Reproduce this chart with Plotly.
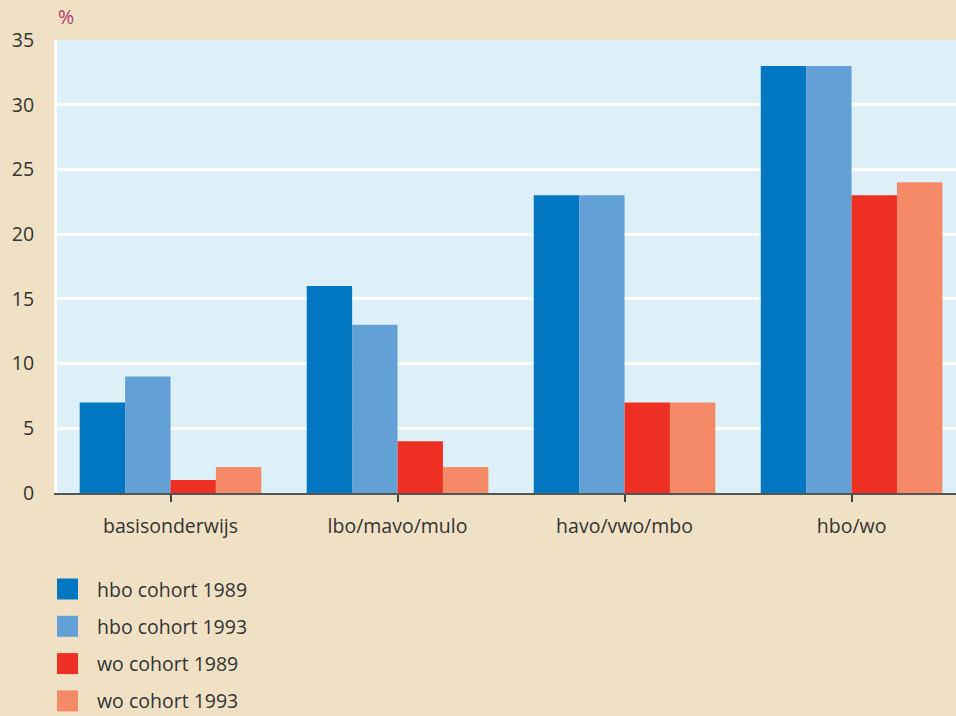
import plotly.graph_objects as go

categories = ["basisonderwijs", "lbo/mavo/mulo", "havo/vwo/mbo", "hbo/wo"]
series_names = ["hbo cohort 1989", "hbo cohort 1993", "wo cohort 1989", "wo cohort 1993"]
hbo_1989 = [7, 16, 23, 33]
hbo_1993 = [9, 13, 23, 33]
wo_1989 = [1, 4, 7, 23]
wo_1993 = [2, 2, 7, 24]
colors = ["#0077C0", "#62A0D6", "#EE3024", "#F58A68"]
y_ticks = [0, 5, 10, 15, 20, 25, 30, 35]

font_family = "Open Sans, Lato, DejaVu Sans, sans-serif"
text_color = "#333333"
fs = 19.5

W, H = 956, 716
L, R, T, B = 57, 0, 40, 223
pw, ph = W - L - R, H - T - B


def px_x(x):
    return (x - L) / pw


def px_y(y):
    return (H - B - y) / ph


fig = go.Figure()
for name, vals, col in zip(series_names, [hbo_1989, hbo_1993, wo_1989, wo_1993], colors):
    fig.add_trace(go.Bar(x=list(range(len(categories))), y=vals, name=name,
                         marker=dict(color=col, line=dict(width=0)), showlegend=False,
                         hoverinfo="skip"))

# manual legend
legend_top = 589
legend_step = 37.3
for i, (name, col) in enumerate(zip(series_names, colors)):
    yc = legend_top + i * legend_step
    fig.add_shape(type="rect", xref="paper", yref="paper",
                  x0=px_x(57), x1=px_x(78), y0=px_y(yc + 10.5), y1=px_y(yc - 10.5),
                  fillcolor=col, line=dict(width=0))
    fig.add_annotation(text=name, xref="paper", yref="paper",
                       x=px_x(95), y=px_y(yc), xanchor="left", yanchor="middle", showarrow=False,
                       font=dict(size=fs, color=text_color, family=font_family))

fig.add_annotation(text="%", xref="paper", yref="paper", x=px_x(56), y=px_y(17),
                   xanchor="left", yanchor="middle", showarrow=False,
                   font=dict(size=fs, color="#B03A6E", family=font_family))

fig.update_layout(
    width=W, height=H,
    margin=dict(l=L, r=R, t=T, b=B),
    paper_bgcolor="#F0E1C4",
    plot_bgcolor="#DDF0F7",
    barmode="group", bargap=0.2, bargroupgap=0,
    font=dict(family=font_family, size=fs, color=text_color),
    xaxis=dict(tickmode="array", tickvals=list(range(len(categories))), ticktext=categories,
               range=[-0.5, 3.46], showgrid=False, showline=True, linecolor="#555555", linewidth=2,
               ticks="outside", ticklen=7, tickwidth=2, tickcolor="#444444", zeroline=False,
               ticklabelstandoff=8, tickfont=dict(size=fs, color=text_color)),
    yaxis=dict(range=[0, 35], tickvals=y_ticks, showgrid=True, gridcolor="white", gridwidth=2.5,
               zeroline=False, showline=True, linecolor="white", linewidth=3,
               ticks="", ticklabelstandoff=16, tickfont=dict(size=fs, color=text_color)),
)

fig.write_html("out.html", config={"displayModeBar": False},
               post_script="document.body.style.margin='0';document.body.style.padding='0';document.body.style.overflow='hidden';document.body.style.background='#F0E1C4';")
